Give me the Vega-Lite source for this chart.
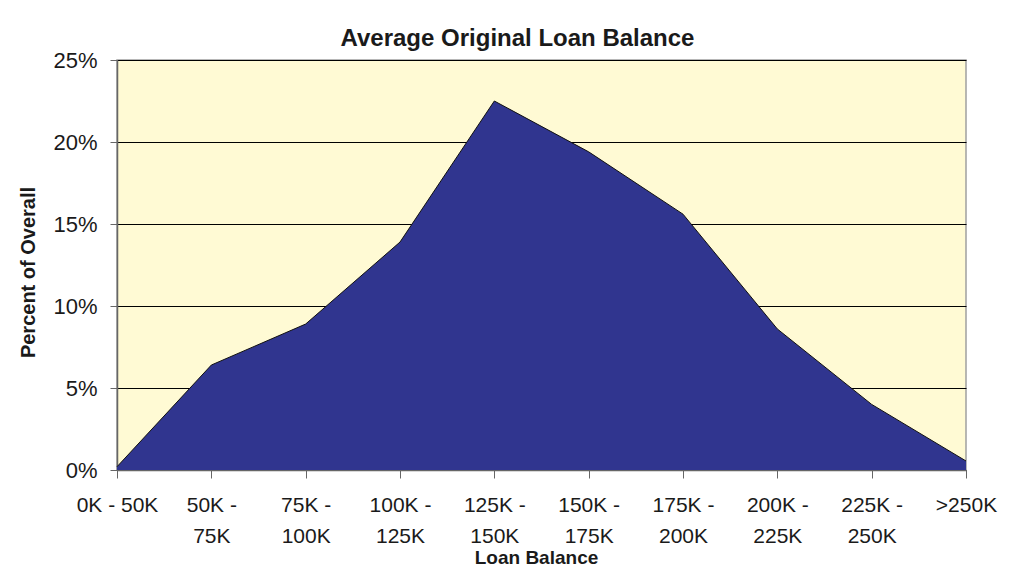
{
  "$schema": "https://vega.github.io/schema/vega-lite/v6.json",
  "width": 849,
  "height": 410,
  "autosize": {"type": "none"},
  "padding": {"left": 117, "top": 60, "right": 69, "bottom": 107},
  "background": "white",
  "title": {
    "text": "Average Original Loan Balance",
    "font": "Liberation Sans",
    "fontSize": 24,
    "fontWeight": "bold",
    "color": "#1a1a1a",
    "anchor": "middle",
    "dx": -24,
    "dy": 6,
    "offset": 4
  },
  "data": {
    "values": [
      {"bucket": "0K - 50K", "pct": 0.002},
      {"bucket": "50K - 75K", "pct": 0.064},
      {"bucket": "75K - 100K", "pct": 0.089},
      {"bucket": "100K - 125K", "pct": 0.139},
      {"bucket": "125K - 150K", "pct": 0.225},
      {"bucket": "150K - 175K", "pct": 0.194},
      {"bucket": "175K - 200K", "pct": 0.156},
      {"bucket": "200K - 225K", "pct": 0.086},
      {"bucket": "225K - 250K", "pct": 0.040},
      {"bucket": ">250K", "pct": 0.0055}
    ]
  },
  "mark": {
    "type": "area",
    "color": "#30358f",
    "opacity": 1,
    "line": {"color": "#111111", "strokeWidth": 1}
  },
  "encoding": {
    "x": {
      "field": "bucket",
      "type": "ordinal",
      "sort": null,
      "scale": {"type": "point", "padding": 0},
      "axis": {
        "title": "Loan Balance",
        "titleFont": "Liberation Sans",
        "titleFontSize": 19,
        "titleFontWeight": "bold",
        "titleColor": "#1a1a1a",
        "titleX": 419,
        "titleY": 93,
        "titleAlign": "center",
        "titleBaseline": "alphabetic",
        "labelAngle": 0,
        "labelFont": "Liberation Sans",
        "labelFontSize": 21,
        "labelColor": "#1a1a1a",
        "labelPadding": 16,
        "labelLineHeight": 31,
        "labelBaseline": "top",
        "labelExpr": "datum.label == '0K - 50K' || datum.label == '>250K' ? datum.label : [split(datum.label, ' - ')[0] + ' -', split(datum.label, ' - ')[1]]",
        "tickSize": 8,
        "tickColor": "#666666",
        "domainColor": "#666666",
        "domainWidth": 1.5,
        "grid": false
      }
    },
    "y": {
      "field": "pct",
      "type": "quantitative",
      "scale": {"domain": [0, 0.25], "nice": false},
      "axis": {
        "title": "Percent of Overall",
        "titleFont": "Liberation Sans",
        "titleFontSize": 20,
        "titleFontWeight": "bold",
        "titleColor": "#1a1a1a",
        "titleX": -89,
        "titleY": 212,
        "titleAngle": -90,
        "titleAlign": "center",
        "titleBaseline": "middle",
        "values": [0, 0.05, 0.1, 0.15, 0.2, 0.25],
        "format": ".0%",
        "labelFont": "Liberation Sans",
        "labelFontSize": 22,
        "labelColor": "#1a1a1a",
        "labelPadding": 13,
        "tickSize": 7,
        "tickColor": "#666666",
        "domainColor": "#666666",
        "domainWidth": 1.5,
        "grid": true,
        "gridColor": "#000000",
        "gridWidth": 1
      }
    }
  },
  "config": {
    "view": {"fill": "#FFFAD4", "stroke": "#a0a0a0", "strokeWidth": 1.5}
  }
}
